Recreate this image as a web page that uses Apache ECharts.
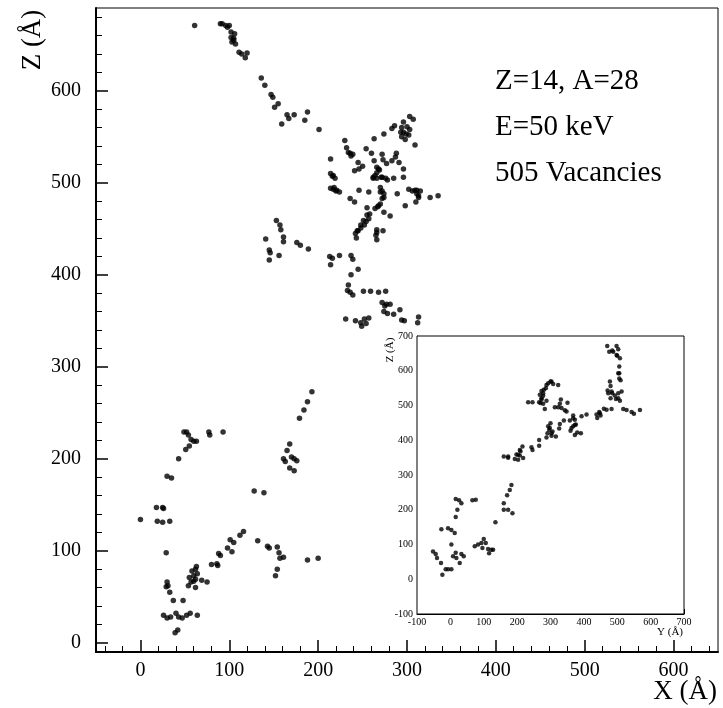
<!DOCTYPE html>
<html>
<head>
<meta charset="utf-8">
<script src="https://cdn.jsdelivr.net/npm/echarts@6/dist/echarts.min.js"></script>
<style>
html,body{margin:0;padding:0;background:#fff;}
#c{width:723px;height:708px;}
</style>
</head>
<body>
<div id="c"></div>
<script>
// Main panel: X (Å), Z (Å) of vacancies
var mainXZ = [
[61,671],[90,673],[92,673],[96,671],[100,671],[98,669],[102,664],[106,662],[102,658],[105,657],[103,653],[107,651],[105,655],[111,642],[114,640],[120,641],[118,636],[136,614],[140,606],[147,596],[149,593],[155,586],[151,582],[165,574],[167,570],[173,574],[159,564],[185,568],[188,577],[201,558],[153,459],[157,454],[158,449],[161,441],[141,439],
[303,572],[307,569],[286,562],[294,560],[300,561],[303,558],[296,555],[299,553],[294,550],[302,552],[298,547],[309,541],[274,553],[263,548],[230,546],[232,538],[236,532],[239,531],[237,529],[254,537],[260,532],[272,531],[288,532],[287,528],[263,524],[273,525],[277,521],[283,524],[291,522],[296,515],[214,526],[245,522],[250,518],[246,515],[241,513],[266,517],[269,514],[266,511],[264,508],[262,505],[266,505],[271,506],[276,505],[278,503],[285,505],[296,506],[214,510],[216,507],[219,505],[214,494],[217,493],[220,491],[224,490],[246,492],[257,490],[270,495],[272,491],[274,488],[289,488],[302,493],[306,491],[311,492],[315,491],[311,488],[313,484],[310,479],[326,484],[335,486],[298,475],[236,483],[241,479],[272,483],[270,477],[267,474],[264,472],[255,473],[274,468],[281,464],[258,466],[257,461],[254,458],[252,454],[248,451],[245,448],[242,445],[243,440],[266,449],[273,448],[265,443],[266,438],
[296,566],[293,555],[283,559],[234,533],[262,506],[272,506],[268,515],[217,508],[218,495],[221,492],[255,465],[251,459],[248,454],[244,448],[270,490],[274,484],[268,475],[309,492],[313,486],[266,446],
[161,436],[145,427],[146,424],[145,416],[156,421],[176,435],[180,432],[189,428],[213,420],[216,418],[214,411],[224,421],[237,421],[239,417],[245,406],[237,400],[234,389],[233,383],[236,381],[239,378],[251,382],[259,382],[268,381],[276,382],[272,370],[275,366],[277,368],[281,368],[274,360],[278,358],[285,357],[292,362],[294,351],[297,350],[313,354],[312,348],[231,352],[242,350],[248,348],[252,352],[257,353],[254,347],[249,344],
[193,273],[188,262],[184,253],[179,244],[168,216],[165,209],[161,200],[163,197],[170,202],[173,200],[176,198],[168,190],[173,187],[128,165],[139,163],[49,229],[52,229],[54,226],[57,221],[60,219],[63,219],[55,214],[51,210],[77,229],[78,226],[93,229],[43,200],[30,181],[35,179],[0,134],[18,147],[25,147],[26,146],[19,132],[25,131],[33,132],[29,98],[30,66],[31,62],[29,61],[33,55],[37,46],[48,46],[26,30],[30,27],[34,28],[40,32],[43,28],[47,27],[52,30],[56,32],[64,30],[39,11],[42,14],[54,62],[57,66],[55,71],[58,78],[60,73],[62,69],[62,60],[64,75],[63,83],[60,67],[69,68],[75,66],[80,85],[86,86],[87,84],[88,97],[90,95],[98,103],[103,99],[101,112],[105,109],[112,117],[116,121],[132,111],[143,105],[145,103],[154,104],[156,98],[157,92],[161,93],[154,80],[152,73],[188,90],[200,92],[62,80]
];
// Inset: Y (Å), Z (Å)
var insetYZ = [
[470,671],[476,655],[485,658],[498,671],[503,662],[500,643],[508,636],[506,612],[506,593],[506,578],[510,573],[478,569],[480,556],[471,543],[485,535],[493,529],[503,535],[513,540],[496,519],[508,514],[480,521],[473,535],[483,490],[468,488],[460,491],[518,490],[528,487],[543,481],[550,476],[568,487],[446,481],[438,474],[440,464],[450,471],[408,474],[393,469],[368,471],[373,459],[358,457],[376,445],[368,440],[360,427],[380,422],[391,420],[373,415],[328,505],[333,493],[343,486],[348,483],[351,508],[331,517],[313,495],[323,495],[340,457],[328,447],[326,434],[300,449],[293,440],[296,430],[306,425],[291,420],[303,413],[316,411],[288,408],[293,564],[300,569],[308,562],[323,559],[286,550],[273,542],[268,531],[278,528],[273,517],[266,509],[278,505],[288,514],[283,490],[233,509],[246,509],[266,384],[243,380],[246,372],[266,401],[216,382],[210,368],[208,356],[198,359],[193,346],[203,344],[218,349],[160,353],[173,350],[183,271],[178,257],[170,242],[160,219],[160,200],[173,200],[186,190],[135,164],[73,95],[83,100],[93,104],[100,116],[106,104],[96,90],[113,87],[123,85],[116,75],[128,85],[76,229],[66,227],[16,231],[26,227],[33,219],[21,200],[16,179],[-27,144],[-7,147],[3,142],[13,133],[3,100],[8,66],[18,61],[16,76],[33,73],[40,66],[28,47],[-52,80],[-44,73],[-40,61],[-28,47],[-14,29],[-7,29],[3,29],[-24,13],
[278,535],[273,521],[270,507],[280,545],[288,559],[303,569],[368,463],[373,444],[363,435],[298,435],[303,420],[488,655],[498,645],[503,593],[483,540],[503,521],[208,372],[203,358],[173,353],[448,478]
];
var mainXTicks = [0,100,200,300,400,500,600];
var mainZTicks = [0,100,200,300,400,500,600];
var insetTicks = [-100,0,100,200,300,400,500,600,700];
var infoLines = ['Z=14, A=28','E=50 keV','505 Vacancies'];

function minorTicks(lo, hi, step, majors){
  var out = [];
  for (var v = lo; v <= hi + 1e-9; v += step){
    if (majors.indexOf(v) < 0) out.push(v);
  }
  return out;
}
var FONT = 'Liberation Serif';
var chart = echarts.init(document.getElementById('c'), null, {renderer:'canvas'});

function axisPair(pos, grid, min, max, majors, minors, majLen, minLen, fontSize, margin, lineW){
  var major = {
    type:'value', gridIndex:grid, min:min, max:max, position:pos,
    axisLine:{show:true, onZero:false, lineStyle:{color:'#000', width:lineW}},
    axisTick:{show:true, inside:true, length:majLen, customValues:majors, lineStyle:{color:'#000', width:lineW>1?1.5:1}},
    axisLabel:{show:true, customValues:majors, fontFamily:FONT, fontSize:fontSize, color:'#000', margin:margin},
    splitLine:{show:false}
  };
  var minor = {
    type:'value', gridIndex:grid, min:min, max:max, position:pos,
    axisLine:{show:false, onZero:false},
    axisTick:{show:true, inside:true, length:minLen, customValues:minors, lineStyle:{color:'#000', width:1}},
    axisLabel:{show:false},
    splitLine:{show:false}
  };
  return [major, minor];
}

var mx = axisPair('bottom', 0, -50, 650, mainXTicks, minorTicks(-40, 640, 20, mainXTicks), 12, 6, 20, 9, 2);
var mz = axisPair('left', 0, -10, 690, mainZTicks, minorTicks(20, 680, 20, mainZTicks), 12, 6, 20, 15, 2);
var ix = axisPair('bottom', 1, -100, 700, insetTicks, minorTicks(-80, 680, 20, insetTicks), 5, 3, 10, 3, 1);
var iz = axisPair('left', 1, -100, 700, insetTicks, minorTicks(-80, 680, 20, insetTicks), 5, 3, 10, 4, 1);

var option = {
  backgroundColor:'#fff',
  animation:false,
  grid:[
    {left:96, top:8, width:622, height:644, show:true, borderColor:'#000', borderWidth:1, backgroundColor:'transparent'},
    {left:417, top:336, width:267, height:278, show:true, borderColor:'#000', borderWidth:1, backgroundColor:'#fff', z:3}
  ],
  xAxis:[mx[0], mx[1], ix[0], ix[1]],
  yAxis:[mz[0], mz[1], iz[0], iz[1]],
  series:[
    {type:'scatter', xAxisIndex:0, yAxisIndex:0, data:mainXZ, symbol:'circle', symbolSize:5.5,
     itemStyle:{color:'#000'}, z:2},
    {type:'scatter', xAxisIndex:2, yAxisIndex:2, data:insetYZ, symbol:'circle', symbolSize:4.5,
     itemStyle:{color:'#000'}, z:5}
  ],
  graphic:[
    {type:'text', x:717, y:692, style:{text:'X (Å)', fontFamily:FONT, fontSize:27, fill:'#000', textAlign:'right', textVerticalAlign:'middle'}},
    {type:'text', x:33, y:40, rotation:Math.PI/2, style:{text:'Z (Å)', fontFamily:FONT, fontSize:27, fill:'#000', textAlign:'center', textVerticalAlign:'middle'}},
    {type:'text', x:683, y:632, z:10, style:{text:'Y (Å)', fontFamily:FONT, fontSize:11, fill:'#000', textAlign:'right', textVerticalAlign:'middle'}},
    {type:'text', x:390, y:350, z:10, rotation:Math.PI/2, style:{text:'Z (Å)', fontFamily:FONT, fontSize:11, fill:'#000', textAlign:'center', textVerticalAlign:'middle'}},
    {type:'text', x:495, y:81, style:{text:infoLines[0], fontFamily:FONT, fontSize:29, fill:'#000', textAlign:'left', textVerticalAlign:'middle'}},
    {type:'text', x:495, y:127, style:{text:infoLines[1], fontFamily:FONT, fontSize:29, fill:'#000', textAlign:'left', textVerticalAlign:'middle'}},
    {type:'text', x:495, y:173, style:{text:infoLines[2], fontFamily:FONT, fontSize:29, fill:'#000', textAlign:'left', textVerticalAlign:'middle'}}
  ]
};
chart.setOption(option);
</script>
</body>
</html>
